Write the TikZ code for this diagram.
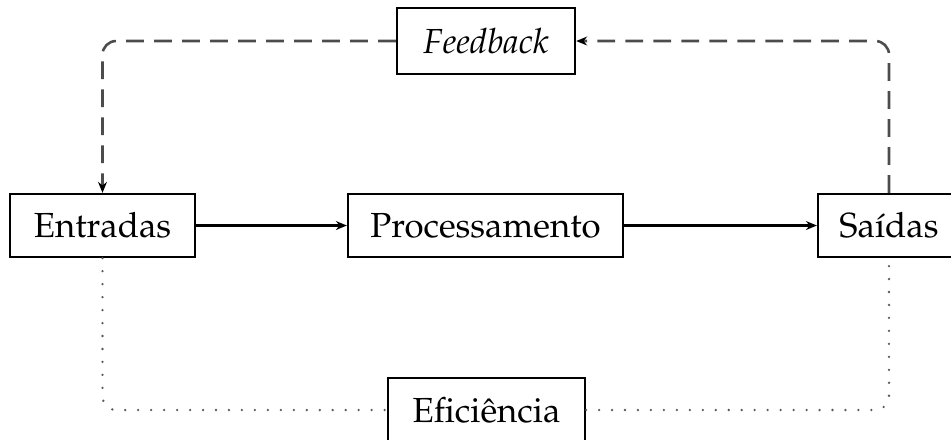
\documentclass[tikz,border=0pt]{standalone}
\usepackage[T1]{fontenc}
\usepackage{mathpazo}
\usetikzlibrary{arrows.meta}
\begin{document}
\begin{tikzpicture}[x=0.293pt,y=-0.293pt,
  box/.style={draw, line width=0.65pt, inner sep=0pt, minimum height=18.5pt, font=\fontsize{10.2}{12}\selectfont},
  flow/.style={line width=0.6pt, -{Stealth[length=3.2pt,width=2.6pt]}},
  fbline/.style={draw=black!70, line width=0.75pt, dash pattern=on 5.2pt off 3pt, rounded corners=4pt, -{Stealth[length=3.2pt,width=2.6pt,black]}},
  efline/.style={draw=black!65, line width=0.75pt, line cap=round, dash pattern=on 0pt off 3.8pt, rounded corners=4pt}]
\useasboundingbox (0,0) rectangle (951,439);
\node[box, minimum width=54.2pt] (ent) at (102.5,225.5) {Entradas};
\node[box, minimum width=80.6pt] (proc) at (485.5,225.5) {Processamento};
\node[box, minimum width=41.6pt] (sai) at (889,225.5) {Saídas};
\node[box, minimum width=52.2pt, minimum height=19.3pt] (fb) at (486,41) {\itshape Feedback};
\node[box, minimum width=57.7pt, minimum height=18.8pt] (ef) at (486.5,410) {Eficiência};
\draw[flow] (ent) -- (proc);
\draw[flow] (proc) -- (sai);
\draw[fbline] (fb.west) -| (ent.north);
\draw[fbline] (sai.north) |- (fb.east);
\draw[efline] (ent.south) |- (ef.west);
\draw[efline] (ef.east) -| (sai.south);
\end{tikzpicture}
\end{document}
